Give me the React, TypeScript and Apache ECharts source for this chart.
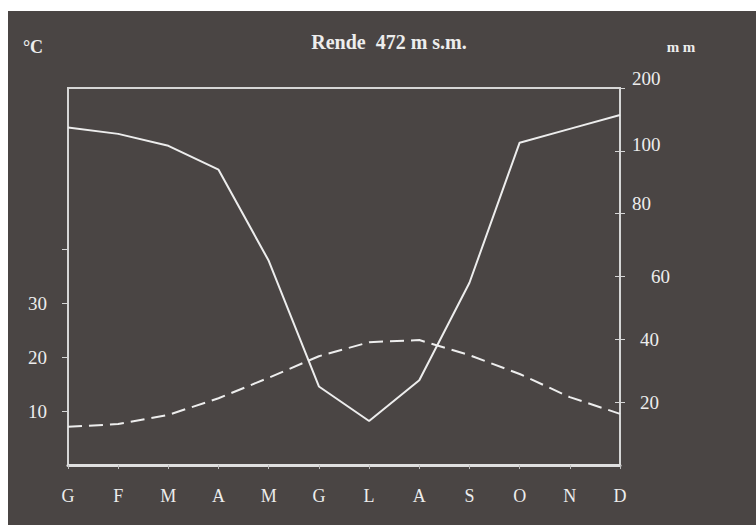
import React, { useEffect, useRef } from 'react';
import * as echarts from 'echarts';

const months = ['G', 'F', 'M', 'A', 'M', 'G', 'L', 'A', 'S', 'O', 'N', 'D'];
const precipitation = [137, 127, 108, 94, 65, 25, 14, 27, 58, 113, 135, 157];
const temperature = [7.1, 7.6, 9.3, 12.4, 16.2, 20.2, 22.8, 23.2, 20.4, 16.9, 12.6, 9.5];
const tempTickValues = [10, 20, 30, 40];
const tempLabelValues = [10, 20, 30];
const precTickValues = [20, 40, 60, 80, 100, 200];
const titleText = 'Rende  472 m s.m.';

// right axis is linear up to 100 mm, then compressed 5x up to 200 mm
const toDisplay = (p: number) => (p <= 100 ? p : 100 + (p - 100) / 5);
const fromDisplay = (v: number) => (v <= 100 ? v : 100 + (v - 100) * 5);

const FG = '#ededed';
const BG = '#4a4544';
const FONT = '"Liberation Serif", "DejaVu Serif", serif';

export default function App() {
  const ref = useRef<HTMLDivElement>(null);
  useEffect(() => {
    document.body.style.margin = '0';
    if (!ref.current) return;
    const chart = echarts.init(ref.current, null, { renderer: 'svg' });
    const labelBase = { fontFamily: FONT, fontSize: 19, color: FG };
    chart.setOption({
      animation: false,
      backgroundColor: 'transparent',
      grid: {
        left: 60,
        right: 136,
        top: 77,
        bottom: 60,
        show: true,
        borderColor: '#d6d6d6',
        borderWidth: 2,
      },
      graphic: [
        {
          type: 'text',
          x: 381,
          y: 31,
          style: {
            text: titleText,
            fill: FG,
            font: `bold 20px ${FONT}`,
            textAlign: 'center',
            textVerticalAlign: 'middle',
          },
        },
        {
          type: 'text',
          x: 25,
          y: 36,
          style: { text: '°C', fill: FG, font: `bold 18px ${FONT}`, textAlign: 'center', textVerticalAlign: 'middle' },
        },
        {
          type: 'text',
          x: 673,
          y: 36,
          style: { text: 'm m', fill: FG, font: `bold 15px ${FONT}`, textAlign: 'center', textVerticalAlign: 'middle' },
        },
      ],
      xAxis: {
        type: 'category',
        data: months,
        boundaryGap: false,
        axisLine: { lineStyle: { color: '#e0e0e0', width: 3 } },
        axisTick: { show: true, length: 4, lineStyle: { color: '#bdbdbd', width: 1 } },
        axisLabel: { ...labelBase, fontSize: 18, margin: 22, interval: 0 },
        splitLine: { show: false },
      },
      yAxis: [
        {
          type: 'value',
          position: 'left',
          min: 0,
          max: 70,
          interval: 10,
          axisLine: { show: true, lineStyle: { color: '#d6d6d6', width: 2 } },
          axisTick: { show: true, length: 6, customValues: tempTickValues, lineStyle: { color: '#d6d6d6', width: 1 } },
          axisLabel: { ...labelBase, margin: 21, customValues: tempLabelValues },
          splitLine: { show: false },
        },
        {
          type: 'value',
          position: 'right',
          min: 0,
          max: 120,
          interval: 20,
          axisLine: { show: true, lineStyle: { color: '#d6d6d6', width: 2 } },
          axisTick: {
            show: true,
            length: 5,
            customValues: precTickValues.map(toDisplay),
            lineStyle: { color: '#d6d6d6', width: 1 },
          },
          axisLabel: {
            ...labelBase,
            margin: 12,
            customValues: precTickValues.map(toDisplay),
            formatter: (v: number) => {
              const p = Math.round(fromDisplay(v));
              const s = p >= 200 ? 'up' : p === 100 ? 'up2' : p === 80 ? 'up' : p === 60 ? 'far' : 'mid';
              return `{${s}|${p}}`;
            },
            rich: {
              up: { ...labelBase, padding: [0, 0, 20, 0] },
              up2: { ...labelBase, padding: [0, 0, 12, 0] },
              far: { ...labelBase, padding: [0, 0, 0, 19] },
              mid: { ...labelBase, padding: [0, 0, 0, 8] },
            },
          },
          splitLine: { show: false },
        },
        {
          type: 'value',
          position: 'right',
          min: 0,
          max: 120,
          interval: 20,
          axisLine: { show: false },
          axisTick: {
            show: true,
            inside: true,
            length: 5,
            customValues: precTickValues.map(toDisplay),
            lineStyle: { color: '#d6d6d6', width: 1 },
          },
          axisLabel: { show: false },
          splitLine: { show: false },
        },
      ],
      series: [
        {
          type: 'line',
          name: 'Precipitazioni',
          yAxisIndex: 1,
          data: precipitation.map(toDisplay),
          symbol: 'none',
          lineStyle: { color: FG, width: 2 },
        },
        {
          type: 'line',
          name: 'Temperatura',
          yAxisIndex: 0,
          data: temperature,
          symbol: 'none',
          lineStyle: { color: FG, width: 2, type: [14, 7] },
        },
      ],
    });
    return () => chart.dispose();
  }, []);
  return (
    <div style={{ position: 'relative', width: 756, height: 525, background: '#ffffff', overflow: 'hidden' }}>
      <div
        ref={ref}
        style={{ position: 'absolute', left: 8, top: 11, width: 748, height: 514, background: BG }}
      />
    </div>
  );
}
